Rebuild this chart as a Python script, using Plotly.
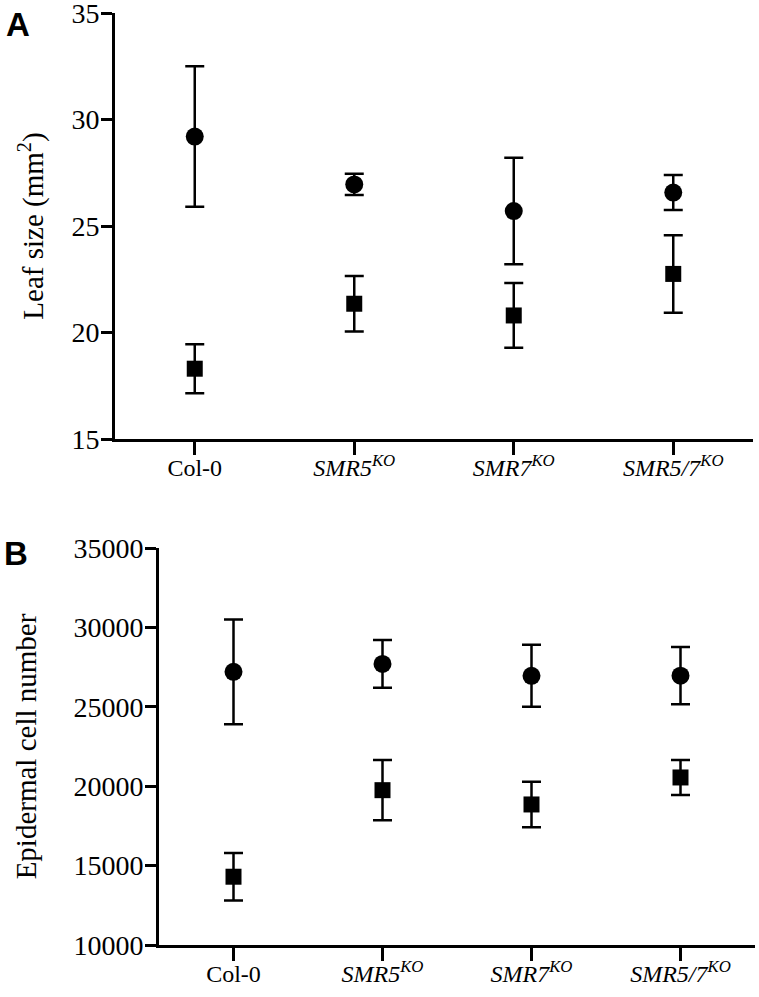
import plotly.graph_objects as go

categories = ["Col-0", "<i>SMR5</i><sup><i>KO</i></sup>", "<i>SMR7</i><sup><i>KO</i></sup>", "<i>SMR5/7</i><sup><i>KO</i></sup>"]

# Panel A: leaf size (mm2)
leaf_circle = [29.2, 26.95, 25.7, 26.57]
leaf_circle_err = [3.3, 0.5, 2.5, 0.82]
leaf_square = [18.3, 21.35, 20.8, 22.75]
leaf_square_err = [1.15, 1.3, 1.52, 1.82]

# Panel B: epidermal cell number
cell_circle = [27200, 27700, 26950, 26960]
cell_circle_err = [3300, 1500, 1950, 1800]
cell_square = [14300, 19750, 18850, 20550]
cell_square_err = [1500, 1900, 1430, 1100]

W, H = 759, 997
FONT = "Liberation Serif"

def px_x(x):
    return x / W

def px_y(y):
    return 1 - y / H

fig = go.Figure()

def add_series(y, err, symbol, size, xa, ya):
    fig.add_trace(go.Scatter(
        x=list(range(len(categories))), y=y, mode="markers",
        marker=dict(symbol=symbol, size=size, color="black"),
        error_y=dict(type="data", array=err, visible=True, color="black",
                     thickness=2.5, width=9.5),
        xaxis=xa, yaxis=ya, showlegend=False, hoverinfo="skip"))

add_series(leaf_circle, leaf_circle_err, "circle", 18, "x", "y")
add_series(leaf_square, leaf_square_err, "square", 16, "x", "y")
add_series(cell_circle, cell_circle_err, "circle", 18, "x2", "y2")
add_series(cell_square, cell_square_err, "square", 16, "x2", "y2")

xcommon = dict(tickmode="array", tickvals=list(range(len(categories))), ticktext=categories,
               range=[-0.5, 3.5], showline=True, linecolor="black", linewidth=3,
               ticks="outside", ticklen=13, tickwidth=2.5, tickcolor="black",
               showgrid=False, zeroline=False, automargin=False,
               ticklabelstandoff=-8, ticklabeloverflow="allow",
               tickfont=dict(family=FONT, size=24, color="black"))
ycommon = dict(showline=True, linecolor="black", linewidth=3,
               ticks="outside", ticklen=11, tickwidth=2.5, tickcolor="black",
               showgrid=False, zeroline=False, automargin=False,
               ticklabelstandoff=-4, ticklabeloverflow="allow",
               tickfont=dict(family=FONT, size=28, color="black"))

fig.update_layout(
    width=W, height=H,
    margin=dict(l=0, r=0, t=0, b=0),
    paper_bgcolor="white", plot_bgcolor="white",
    xaxis=dict(domain=[px_x(115), px_x(753)], anchor="y", **xcommon),
    yaxis=dict(domain=[px_y(439), px_y(13)], anchor="x", range=[15, 35],
               tickvals=[15, 20, 25, 30, 35],
               title=dict(text="Leaf size (mm<sup>2</sup>)", standoff=20,
                          font=dict(family=FONT, size=29, color="black")),
               **ycommon),
    xaxis2=dict(domain=[px_x(159), px_x(755)], anchor="y2", **xcommon),
    yaxis2=dict(domain=[px_y(945), px_y(548)], anchor="x2", range=[10000, 35000],
                tickvals=[10000, 15000, 20000, 25000, 30000, 35000],
                tickformat="d",
                title=dict(text="Epidermal cell number", standoff=29,
                           font=dict(family=FONT, size=29, color="black")),
                **ycommon),
    annotations=[
        dict(text="<b>A</b>", x=px_x(4), y=px_y(4), xref="paper", yref="paper",
             xanchor="left", yanchor="top", showarrow=False,
             font=dict(family="Liberation Sans", size=33, color="black")),
        dict(text="<b>B</b>", x=px_x(2), y=px_y(533), xref="paper", yref="paper",
             xanchor="left", yanchor="top", showarrow=False,
             font=dict(family="Liberation Sans", size=33, color="black")),
    ],
)

fig.write_html("out.html", config={"displayModeBar": False},
               post_script="document.body.style.margin='0px';document.body.style.overflow='hidden';")
